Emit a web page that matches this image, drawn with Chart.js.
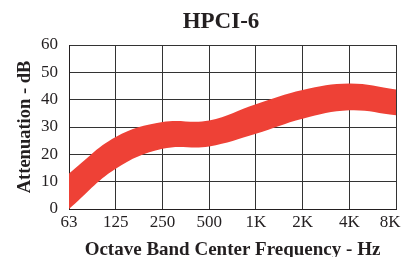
<!DOCTYPE html>
<html>
<head>
<meta charset="utf-8">
<script src="https://cdn.jsdelivr.net/npm/chart.js@4"></script>
<style>
  html, body { margin: 0; padding: 0; background: #fff; }
  #wrap { width: 404px; height: 257px; position: relative; }
</style>
</head>
<body>
<div id="wrap"><canvas id="chart"></canvas></div>
<script>
// octave band centre frequencies
const bands = ['63', '125', '250', '500', '1K', '2K', '4K', '8K'];
// attenuation range, dB (top and bottom edges of the red band)
const upperDb = [13, 26.3, 31.8, 32.4, 38.3, 43.5, 45.9, 43.7];
const lowerDb = [0, 14.7, 22, 22.9, 27.5, 33, 36.1, 34.3];
const yTicks = [0, 10, 20, 30, 40, 50, 60];

const ink = '#231f20';
const bandRed = '#ee4136';
const serif = '"Liberation Serif", "DejaVu Serif", serif';

// title drawn by hand so it can sit off-centre like the original
const titlePlugin = {
    id: 'hpciTitle',
    afterDraw(chart) {
        const ctx = chart.ctx;
        ctx.save();
        ctx.font = 'bold 23px ' + serif;
        ctx.fillStyle = ink;
        ctx.textAlign = 'center';
        ctx.textBaseline = 'middle';
        ctx.fillText('HPCI-6', 221, 22);
        ctx.restore();
    }
};

new Chart(document.getElementById('chart'), {
    type: 'line',
    data: {
        labels: bands,
        datasets: [{
            data: upperDb,
            borderWidth: 0,
            pointRadius: 0,
            tension: 0.4,
            backgroundColor: bandRed,
            fill: '+1'
        }, {
            data: lowerDb,
            borderWidth: 0,
            pointRadius: 0,
            tension: 0.4,
            fill: false
        }]
    },
    options: {
        responsive: true,
        maintainAspectRatio: false,
        animation: false,
        layout: { padding: { top: 45, right: 8, left: 0, bottom: 0 } },
        plugins: {
            legend: { display: false },
            tooltip: { enabled: false }
        },
        scales: {
            x: {
                grid: { color: '#333', lineWidth: 1, drawTicks: false },
                border: { color: ink, width: 1 },
                ticks: {
                    color: ink,
                    padding: 3,
                    maxRotation: 0,
                    font: { family: serif, size: 17 },
                    // last label is nudged left so it stays inside the picture
                    callback: (v, i) => i === bands.length - 1 ? bands[i] + '\u2002\u2009' : bands[i]
                },
                title: {
                    display: true,
                    text: 'Octave Band Center Frequency - Hz',
                    color: ink,
                    padding: { top: 0, bottom: -3 },
                    font: { family: serif, size: 19, weight: 'bold', lineHeight: 1 }
                },
                afterFit: s => {
                    s.height = 48;
                    s.paddingRight = 0;
                }
            },
            y: {
                min: 0,
                max: 60,
                grid: { color: '#333', lineWidth: 1, drawTicks: false },
                border: { color: ink, width: 1 },
                afterBuildTicks: s => { s.ticks = yTicks.map(v => ({ value: v })); },
                ticks: {
                    color: ink,
                    padding: 11,
                    font: { family: serif, size: 17 }
                },
                title: {
                    display: true,
                    text: 'Attenuation - dB',
                    color: ink,
                    padding: { top: 14, bottom: 0 },
                    font: { family: serif, size: 18.5, weight: 'bold' }
                },
                afterFit: s => { s.width = 69; }
            }
        }
    },
    plugins: [titlePlugin]
});
</script>
</body>
</html>
